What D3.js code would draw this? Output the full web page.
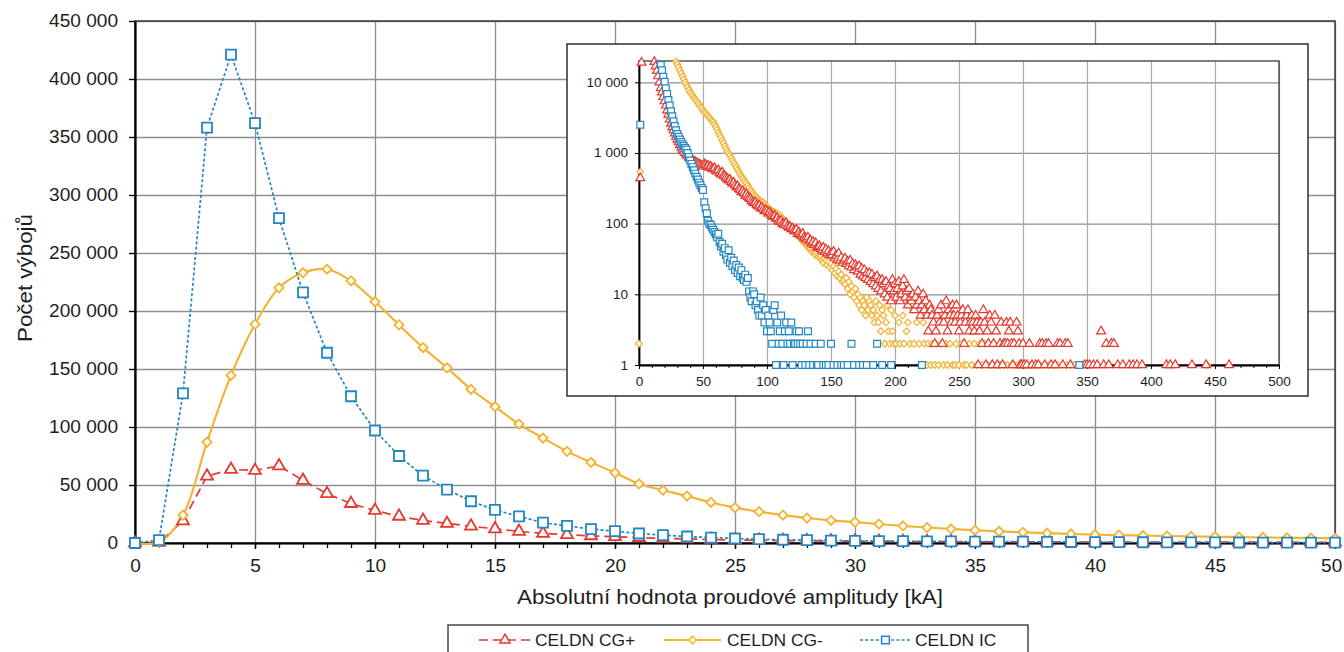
<!DOCTYPE html>
<html><head><meta charset="utf-8">
<script src="https://cdn.jsdelivr.net/npm/d3@7"></script>
<style>
html,body{margin:0;padding:0;background:#fff;}
svg{display:block;font-family:"Liberation Sans",Arial,sans-serif;}
</style></head><body>
<svg id="chart" width="1344" height="652"></svg>
<script>
// ---------- DATA ----------
const amplitudes = d3.range(0, 51);               // kA bins 0..50 (main chart)
const seriesNames = ["CELDN CG+", "CELDN CG-", "CELDN IC"];
const yTickValues = [0, 50000, 100000, 150000, 200000, 250000, 300000, 350000, 400000, 450000];
const xTickValues = [0, 5, 10, 15, 20, 25, 30, 35, 40, 45, 50];
const insetXTicks = [0, 50, 100, 150, 200, 250, 300, 350, 400, 450, 500];
const insetYTicks = [1, 10, 100, 1000, 10000];

const cgPlus = [0, 440, 19000, 57600, 63500, 62500, 66500, 54000, 42500, 34000,
  28000, 23000, 19500, 16800, 14500, 12200, 10000, 8300, 7200, 6200,
  5400, 4700, 4000, 3500, 3000, 2600, 2300, 2100, 1900, 1700,
  1550, 1420, 1300, 1200, 1120, 1050, 1000, 950, 900, 860,
  830, 800, 780, 760, 740, 720, 700, 690, 670, 660, 640];
const cgMinus = [2, 540, 24000, 87000, 144500, 188500, 220000, 233000, 236000, 226000,
  208000, 188000, 168500, 151000, 132500, 117500, 102500, 90500, 79000, 69500,
  60500, 51000, 45500, 40500, 35000, 30500, 27000, 24000, 21500, 19500,
  18000, 16300, 14700, 13300, 12100, 11000, 10000, 9200, 8500, 7800,
  7200, 6800, 6400, 6000, 5700, 5400, 5100, 4800, 4500, 4300, 4000];
const ic = [0, 2500, 129000, 358000, 421000, 362000, 280000, 216000, 164000, 126500,
  97000, 75000, 58000, 46000, 36000, 28500, 23000, 17500, 14800, 12000,
  10200, 8200, 6800, 5600, 4700, 3900, 3300, 2800, 2400, 2100,
  1850, 1700, 1550, 1430, 1330, 1250, 1180, 1120, 1000, 880,
  780, 700, 630, 570, 510, 460, 420, 380, 350, 320, 300];

// inset tails (x > 50 kA): contiguous bins starting at 51, then sparse [kA, count]
const tailStart = 51;
const cgPlusTail = [690, 680, 650, 660, 620, 640, 600, 590, 610, 560,
  550, 570, 520, 500, 530, 480, 470, 450, 430, 410,
  420, 390, 370, 380, 350, 330, 340, 310, 300, 280,
  290, 270, 250, 260, 240, 230, 225, 210, 200, 195,
  200, 185, 175, 180, 165, 170, 160, 150, 155, 150,
  140, 145, 135, 130, 125, 128, 118, 120, 110, 106,
  110, 100, 98, 95, 102, 92, 88, 90, 84, 86,
  80, 78, 82, 72, 75, 70, 68, 72, 64, 62,
  60, 64, 56, 58, 52, 55, 50, 53, 46, 47,
  48, 44, 42, 46, 40, 43, 38, 41, 36, 38,
  36, 40, 33, 35, 31, 38, 30, 33, 28, 30,
  32, 27, 29, 25, 30, 24, 27, 22, 26, 24,
  21, 25, 19, 23, 18, 22, 17, 20, 16, 20,
  15, 19, 14, 17, 13, 18, 12, 16, 11, 16,
  14, 10, 15, 9, 13, 12, 8, 16, 11, 14];
const cgPlusSparse = [[201,9],[202,12],[203,15],[204,8],[205,10],[206,13],[207,16],[208,9],[209,11],[210,7],
  [211,12],[212,9],[213,8],[214,10],[215,6],[216,9],[217,7],[218,11],[219,8],[220,5],
  [221,7],[222,10],[223,6],[224,8],[225,5],[226,3],[227,7],[228,6],[229,5],[230,4],
  [231,2],[232,3],[233,5],[234,6],[235,4],[236,7],[237,2],[238,4],[239,5],[240,8],
  [241,3],[242,6],[243,5],[244,4],[245,7],[246,5],[247,4],[248,7],[249,5],[250,3],
  [251,4],[252,5],[253,6],[254,2],[255,4],[256,5],[257,6],[258,3],[259,4],[260,5],
  [261,4],[262,3],[263,5],[264,4],[265,1],[266,3],[267,4],[268,2],[269,6],[270,4],
  [271,1],[272,3],[273,2],[274,5],[275,4],[276,1],[277,2],[278,5],[279,3],[280,1],
  [282,2],[283,4],[284,1],[285,2],[286,2],[287,4],[288,2],[289,3],[290,4],[291,2],
  [292,1],[293,2],[295,4],[296,3],[297,2],[298,1],[299,1],[300,2],[301,1],[303,1],
  [305,2],[307,1],[310,1],[312,1],[313,2],[315,2],[317,1],[318,2],[320,2],[322,1],
  [325,1],[327,2],[329,2],[331,1],[333,2],[335,2],[337,1],[348,1],[350,1],[352,1],
  [355,1],[358,1],[361,3],[363,1],[365,2],[367,1],[369,2],[371,2],[374,1],[378,1],
  [383,1],[386,1],[389,1],[393,1],[412,1],[415,1],[419,1],[432,1],[443,1],[461,1]];

const cgMinusTail = [3800, 3650, 3450, 3300, 3150, 3000, 2850, 2750, 2550, 2350,
  2150, 1950, 1800, 1650, 1500, 1380, 1260, 1150, 1050, 980,
  930, 850, 790, 730, 680, 630, 580, 540, 500, 470,
  440, 415, 390, 370, 345, 320, 300, 285, 270, 255,
  245, 235, 225, 215, 210, 205, 200, 190, 180, 170,
  165, 160, 155, 150, 148, 145, 140, 138, 135, 130,
  125, 118, 112, 108, 104, 100, 95, 90, 86, 82,
  78, 76, 72, 68, 66, 62, 60, 56, 54, 52,
  50, 46, 48, 44, 40, 42, 38, 36, 39, 34,
  33, 35, 31, 28, 32, 30, 26, 29, 24, 27,
  22, 25, 20, 23, 18, 21, 17, 19, 15, 16,
  14, 17, 12, 15, 10, 13, 11, 9, 12, 8,
  10, 7, 9, 6, 8, 7, 5, 9, 6, 8,
  7, 5, 6, 4, 8, 5, 4, 7, 3, 6,
  5, 2, 4, 7, 3, 2, 6, 3, 2, 5];
const cgMinusSparse = [[201,2],[203,4],[204,2],[206,5],[207,2],[209,3],[210,4],[212,2],[214,6],[215,2],
  [217,4],[219,2],[221,1],[222,4],[223,2],[225,1],[226,2],[228,1],[229,2],[231,1],
  [232,2],[234,1],[236,2],[238,1],[240,2],[241,1],[243,2],[245,1],[247,1],[248,2],
  [250,1],[252,2],[254,1],[256,1],[258,2],[260,1],[262,2],[264,1],[266,2],[268,1],
  [270,2],[272,1],[275,1],[277,2],[279,1],[282,1],[285,1],[288,1],[291,1],[293,1],
  [296,1],[302,1],[306,1],[310,1],[313,1],[317,1],[320,1],[324,1],[327,1],[331,1],
  [334,1],[337,1],[340,1],[444,1]];

const icTail = [200, 165, 140, 110, 100, 96, 88, 82, 76, 70,
  64, 72, 55, 48, 52, 40, 45, 36, 31, 42,
  28, 33, 25, 30, 22, 26, 20, 24, 18, 22,
  17, 16, 19, 15, 17, 11, 9, 8, 11, 10,
  7, 8, 6, 5, 9, 5, 7, 4, 6, 3,
  5, 4, 3, 2, 6, 7];
const icSparse = [[107,1],[108,4],[109,2],[110,3],[111,5],[112,2],[113,1],[114,3],[115,4],[116,2],
  [117,3],[118,2],[119,4],[120,1],[121,2],[122,2],[123,3],[124,2],[125,3],[126,2],
  [127,1],[128,2],[130,1],[131,2],[132,3],[133,1],[134,2],[136,1],[138,2],[139,1],
  [140,1],[142,2],[144,1],[146,1],[148,1],[150,2],[152,1],[155,1],[158,1],[160,1],
  [163,1],[166,2],[168,1],[172,1],[175,1],[178,1],[183,1],[186,2],[190,1],[197,1],
  [221,1],[344,1]];

// ---------- STYLE ----------
const RED = "#e5392f", ORANGE = "#f3b230", BLUE = "#2287c4";
const GRID = "#8e8e8e";
const SX = 1.09; // horizontal text stretch seen in the reference

const svg = d3.select("#chart");
const fmt = d3.formatLocale({decimal: ",", thousands: "\u00a0", grouping: [3], currency: ["", ""]}).format(",d");

// ---------- MAIN CHART ----------
const M = {left: 135, right: 1335, top: 21, bottom: 543};
const x = d3.scaleLinear().domain([0, 50]).range([M.left, M.right]);
const y = d3.scaleLinear().domain([0, 450000]).range([M.bottom, M.top]);

// gridlines
svg.append("g").attr("transform", `translate(${M.left},0)`)
  .call(d3.axisLeft(y).tickValues(yTickValues).tickSize(-(M.right - M.left)).tickFormat(""))
  .call(g => g.select(".domain").remove())
  .call(g => g.selectAll(".tick line").attr("stroke", GRID).attr("stroke-width", 1.3));
svg.append("g").attr("transform", `translate(0,${M.bottom})`)
  .call(d3.axisBottom(x).tickValues(xTickValues).tickSize(-(M.bottom - M.top)).tickFormat(""))
  .call(g => g.select(".domain").remove())
  .call(g => g.selectAll(".tick line").attr("stroke", GRID).attr("stroke-width", 1.3));

// plot border
svg.append("rect").attr("x", M.left).attr("y", M.top)
  .attr("width", M.right - M.left).attr("height", M.bottom - M.top)
  .attr("fill", "none").attr("stroke", "#3c3c3c").attr("stroke-width", 1.5);

// axes
const gy = svg.append("g").attr("transform", `translate(${M.left},0)`)
  .call(d3.axisLeft(y).tickValues(yTickValues).tickFormat(fmt).tickSize(6).tickSizeOuter(0).tickPadding(9.6));
gy.select(".domain").attr("stroke", "#000").attr("stroke-width", 2.2);
gy.selectAll(".tick line").attr("stroke", "#000").attr("stroke-width", 1.4);
gy.selectAll(".tick text").attr("font-size", 17.5).attr("fill", "#1e1e1e").attr("transform", `scale(${SX},1)`);

svg.append("g").attr("transform", `translate(0,${M.bottom})`)
  .call(d3.axisBottom(x).ticks(50).tickSize(5).tickFormat(""))
  .call(g => g.select(".domain").remove())
  .call(g => g.selectAll(".tick line").attr("stroke", "#000").attr("stroke-width", 1.3));
const gx = svg.append("g").attr("transform", `translate(0,${M.bottom})`)
  .call(d3.axisBottom(x).tickValues(xTickValues).tickSize(6).tickSizeOuter(0).tickPadding(11));
gx.select(".domain").attr("stroke", "#000").attr("stroke-width", 2.2);
gx.selectAll(".tick line").attr("stroke", "#000").attr("stroke-width", 1.4);
gx.selectAll(".tick text").attr("font-size", 17.5).attr("fill", "#1e1e1e").attr("transform", `scale(${SX},1)`)
  .attr("x", d => d === 50 ? -3.5 : 0);

// axis titles
svg.append("text").attr("transform", `translate(730,604) scale(${SX},1)`)
  .attr("text-anchor", "middle").attr("font-size", 20.5).attr("fill", "#1e1e1e")
  .text("Absolutní hodnota proudové amplitudy [kA]");
svg.append("text").attr("transform", `translate(32,278) rotate(-90) scale(${SX},1)`)
  .attr("text-anchor", "middle").attr("font-size", 20.5).attr("fill", "#1e1e1e")
  .text("Počet výbojů");

// series
const series = [
  {name: seriesNames[0], values: cgPlus, color: RED, dash: "9,5", width: 1.7, curve: d3.curveLinear,
   sym: d3.symbolTriangle, size: 62, rot: 0, isize: 34},
  {name: seriesNames[1], values: cgMinus, color: ORANGE, dash: null, width: 2.1, curve: d3.curveCatmullRom,
   sym: d3.symbolSquare, size: 42, rot: 45, isize: 22},
  {name: seriesNames[2], values: ic, color: BLUE, dash: "3,2.2", width: 1.7, curve: d3.curveLinear,
   sym: d3.symbolSquare, size: 100, rot: 0, isize: 46}
];

series.forEach(s => {
  const line = d3.line().x((d, i) => x(amplitudes[i])).y(d => y(d)).curve(s.curve);
  svg.append("path").attr("d", line(s.values)).attr("fill", "none")
    .attr("stroke", s.color).attr("stroke-width", s.width)
    .attr("stroke-dasharray", s.dash);
});
series.forEach(s => {
  svg.append("g").selectAll("path").data(s.values).join("path")
    .attr("d", d3.symbol().type(s.sym).size(s.size))
    .attr("transform", (d, i) => `translate(${x(amplitudes[i])},${y(d)}) rotate(${s.rot})`)
    .attr("fill", "#fff").attr("stroke", s.color).attr("stroke-width", 1.8);
});

// ---------- INSET ----------
const B = {x0: 567, y0: 44, x1: 1308, y1: 396};
const I = {left: 639, right: 1279, top: 61, bottom: 365};
const ix = d3.scaleLinear().domain([0, 500]).range([I.left, I.right]);
const iy = d3.scaleLog().domain([1, 20000]).range([I.bottom, I.top]);

svg.append("rect").attr("x", B.x0).attr("y", B.y0).attr("width", B.x1 - B.x0).attr("height", B.y1 - B.y0)
  .attr("fill", "#fff").attr("stroke", "#3a3a3a").attr("stroke-width", 1.6);

svg.append("g").attr("transform", `translate(${I.left},0)`)
  .call(d3.axisLeft(iy).tickValues(insetYTicks.slice(1)).tickSize(-(I.right - I.left)).tickFormat(""))
  .call(g => g.select(".domain").remove())
  .call(g => g.selectAll(".tick line").attr("stroke", GRID).attr("stroke-width", 1.2));
svg.append("g").attr("transform", `translate(0,${I.bottom})`)
  .call(d3.axisBottom(ix).tickValues(insetXTicks.slice(1)).tickSize(-(I.bottom - I.top)).tickFormat(""))
  .call(g => g.select(".domain").remove())
  .call(g => g.selectAll(".tick line").attr("stroke", "#aaaaaa").attr("stroke-width", 1.2));
svg.append("rect").attr("x", I.left).attr("y", I.top).attr("width", I.right - I.left).attr("height", I.bottom - I.top)
  .attr("fill", "none").attr("stroke", "#3c3c3c").attr("stroke-width", 1.3);

const iyAxis = svg.append("g").attr("transform", `translate(${I.left},0)`)
  .call(d3.axisLeft(iy).tickValues(insetYTicks).tickFormat(fmt).tickSize(4).tickSizeOuter(0).tickPadding(6));
iyAxis.select(".domain").attr("stroke", "#000").attr("stroke-width", 1.8);
iyAxis.selectAll(".tick line").attr("stroke", "#000");
iyAxis.selectAll(".tick text").attr("font-size", 12.5).attr("fill", "#1e1e1e").attr("transform", `scale(${SX},1)`);

svg.append("g").attr("transform", `translate(0,${I.bottom})`)
  .call(d3.axisBottom(ix).ticks(50).tickSize(3).tickFormat(""))
  .call(g => g.select(".domain").remove())
  .call(g => g.selectAll(".tick line").attr("stroke", "#000"));
const ixAxis = svg.append("g").attr("transform", `translate(0,${I.bottom})`)
  .call(d3.axisBottom(ix).tickValues(insetXTicks).tickSize(4).tickSizeOuter(0).tickPadding(8));
ixAxis.select(".domain").attr("stroke", "#000").attr("stroke-width", 1.8);
ixAxis.selectAll(".tick line").attr("stroke", "#000");
ixAxis.selectAll(".tick text").attr("font-size", 12.5).attr("fill", "#1e1e1e").attr("transform", `scale(${SX},1)`);

function insetPoints(main, tail, sparse) {
  const pts = main.map((v, i) => [amplitudes[i], v]);
  tail.forEach((v, i) => pts.push([tailStart + i, v]));
  sparse.forEach(p => pts.push(p));
  return pts.filter(p => p[1] >= 1 && p[1] <= 20500);
}
const insetSeries = [
  {s: series[1], pts: insetPoints(cgMinus, cgMinusTail, cgMinusSparse)},
  {s: series[0], pts: insetPoints(cgPlus, cgPlusTail, cgPlusSparse)},
  {s: series[2], pts: insetPoints(ic, icTail, icSparse)}
];
insetSeries.forEach(({s, pts}) => {
  svg.append("g").selectAll("path").data(pts).join("path")
    .attr("d", d3.symbol().type(s.sym).size(s.isize))
    .attr("transform", d => `translate(${ix(d[0])},${iy(d[1])}) rotate(${s.rot})`)
    .attr("fill", "#fff").attr("stroke", s.color).attr("stroke-width", 1.2);
});

// ---------- LEGEND ----------
svg.append("rect").attr("x", 448).attr("y", 625).attr("width", 580).attr("height", 40)
  .attr("fill", "#fff").attr("stroke", "#3a3a3a").attr("stroke-width", 1.4);
const legendItems = [
  {s: series[0], x0: 479, x1: 531, text: 535},
  {s: series[1], x0: 664, x1: 721, text: 727},
  {s: series[2], x0: 860, x1: 911, text: 915}
];
const LY = 640;
legendItems.forEach(it => {
  const g = svg.append("g");
  g.append("line").attr("x1", it.x0).attr("x2", it.x1).attr("y1", LY).attr("y2", LY)
    .attr("stroke", it.s.color).attr("stroke-width", it.s.width).attr("stroke-dasharray", it.s.dash);
  g.append("path").attr("d", d3.symbol().type(it.s.sym).size(it.s.isize * 1.3))
    .attr("transform", `translate(${(it.x0 + it.x1) / 2},${LY}) rotate(${it.s.rot})`)
    .attr("fill", "#fff").attr("stroke", it.s.color).attr("stroke-width", 1.5);
  g.append("text").attr("transform", `translate(${it.text},${LY + 6}) scale(${SX},1)`)
    .attr("font-size", 16).attr("fill", "#1e1e1e").text(it.s.name);
});
</script>
</body></html>
